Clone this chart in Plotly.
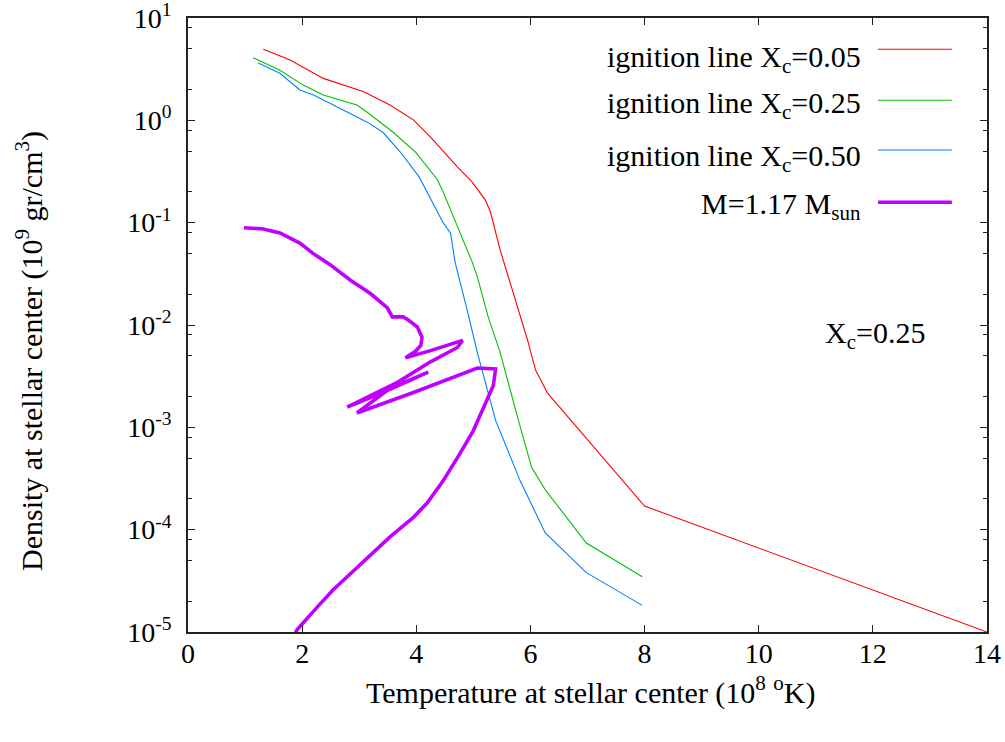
import plotly.graph_objects as go

# ---- data ----
red_T = [1.32, 1.79, 2.37, 3.07, 3.54, 3.95, 4.25, 4.72, 4.98, 5.21, 5.30, 5.47, 5.70, 5.95, 6.09, 6.30, 8.0, 14.0]
red_rho = [4.94, 3.88, 2.57, 1.91, 1.41, 1.01, 0.687, 0.35, 0.249, 0.166, 0.127, 0.054, 0.0205, 0.0071, 0.00362, 0.00216, 1.7e-4, 1.0e-5]

green_T = [1.14, 1.61, 2.02, 2.37, 2.96, 3.14, 3.6, 4.0, 4.37, 4.47, 4.98, 5.07, 5.26, 5.47, 5.79, 6.02, 6.26, 6.98, 7.96]
green_rho = [4.09, 3.09, 2.21, 1.77, 1.41, 1.20, 0.76, 0.48, 0.263, 0.2, 0.0412, 0.0295, 0.012, 0.00537, 0.00117, 4.07e-4, 2.45e-4, 7.4e-5, 3.47e-5]

blue_T = [1.23, 1.61, 1.96, 2.2, 2.9, 3.14, 3.42, 3.72, 4.05, 4.47, 4.6, 4.68, 4.89, 5.07, 5.39, 5.82, 6.26, 6.98, 7.96]
blue_rho = [3.63, 2.88, 1.98, 1.77, 1.12, 0.96, 0.76, 0.49, 0.28, 0.1, 0.079, 0.041, 0.0141, 0.00537, 0.00117, 3.0e-4, 9.3e-5, 3.8e-5, 1.82e-5]

star_T = [0.98, 1.3, 1.61, 1.96, 2.19, 2.49, 2.84, 3.19, 3.49, 3.58, 3.77, 3.86, 4.02, 4.1, 4.08, 3.98, 3.81,
          4.25, 4.81, 4.72, 4.25, 3.67, 2.79, 3.37, 4.21, 3.54, 2.96, 3.95, 5.07, 5.39, 5.35, 5.18, 5.0,
          4.77, 4.47, 4.19, 3.95, 3.54, 3.19, 2.84, 2.54, 2.26, 1.91, 1.85]
star_rho = [0.0891, 0.0871, 0.0794, 0.0631, 0.0501, 0.0389, 0.0275, 0.0204, 0.0148, 0.0120, 0.0120, 0.0112, 0.00955, 0.00759, 0.00631, 0.0055, 0.00479,
            0.00562, 0.00708, 0.00603, 0.00437, 0.00275, 0.00158, 0.00214, 0.00347, 0.0024, 0.00138, 0.00219, 0.0038, 0.00372, 0.00257, 0.00158, 9.3e-4,
            5.6e-4, 3.0e-4, 1.82e-4, 1.32e-4, 8.5e-5, 5.6e-5, 3.7e-5, 2.57e-5, 1.74e-5, 1.05e-5, 8.9e-6]

legend_labels = ["ignition line X<sub>c</sub>=0.05", "ignition line X<sub>c</sub>=0.25",
                 "ignition line X<sub>c</sub>=0.50", "M=1.17 M<sub>sun</sub>"]
colors = ["#ff0000", "#00c000", "#0080ff", "#c000ff"]
widths = [1.1, 1.1, 1.1, 3.6]

x_ticks = [0, 2, 4, 6, 8, 10, 12, 14]
y_ticks = [1e-5, 1e-4, 1e-3, 1e-2, 1e-1, 1e0, 1e1]
y_ticktext = ["10<sup>-5</sup>", "10<sup>-4</sup>", "10<sup>-3</sup>", "10<sup>-2</sup>",
              "10<sup>-1</sup>", "10<sup>0</sup>", "10<sup>1</sup>"]
y_minor = [m * 10.0 ** e for e in range(-5, 1) for m in (2, 5, 8)]

FONT = "Liberation Serif, Times New Roman, serif"

fig = go.Figure()
series = [(red_T, red_rho), (green_T, green_rho), (blue_T, blue_rho), (star_T, star_rho)]
for (xs, ys), name, c, w in zip(series, legend_labels, colors, widths):
    fig.add_trace(go.Scatter(x=xs, y=ys, mode="lines", name=name,
                             line=dict(color=c, width=w), showlegend=False))

# custom legend: text on left (right-aligned), sample line on right
line_y = [0.949, 0.866, 0.785, 0.700]
text_y = [0.9337, 0.8583, 0.7728, 0.6938]
for ly, ty, name, c, w in zip(line_y, text_y, legend_labels, colors, widths):
    fig.add_annotation(xref="paper", yref="paper", x=0.845, y=ty, text=name,
                       showarrow=False, xanchor="right", yanchor="middle",
                       font=dict(family=FONT, size=30, color="black"))
    fig.add_shape(type="line", xref="paper", yref="paper", x0=0.8636, x1=0.956, y0=ly, y1=ly,
                  line=dict(color=c, width=w))

fig.add_annotation(xref="paper", yref="paper", x=0.86, y=0.484, text="X<sub>c</sub>=0.25",
                   showarrow=False, xanchor="center", yanchor="middle",
                   font=dict(family=FONT, size=30, color="black"))

# axis titles
fig.add_annotation(xref="paper", yref="paper", x=0.504, y=-0.0945,
                   text="Temperature at stellar center (10<sup>8</sup> <sup>o</sup>K)",
                   showarrow=False, xanchor="center", yanchor="middle",
                   font=dict(family=FONT, size=30, color="black"))
fig.add_annotation(xref="paper", yref="paper", x=-0.1977, y=0.4577, textangle=-90,
                   text="Density at stellar center (10<sup>9</sup> gr/cm<sup>3</sup>)",
                   showarrow=False, xanchor="center", yanchor="middle",
                   font=dict(family=FONT, size=30, color="black"))

axis_common = dict(showline=True, linecolor="#222222", linewidth=1.5, mirror="allticks",
                   ticks="inside", tickcolor="#222222", showgrid=False, zeroline=False,
                   automargin=False, ticklabeloverflow="allow",
                   tickfont=dict(family=FONT, size=28, color="black"))

fig.update_xaxes(range=[0, 14], tickmode="array", tickvals=x_ticks, ticklen=7,
                 ticklabelstandoff=-4, **axis_common)
fig.update_yaxes(type="log", range=[-5, 1], tickmode="array", tickvals=y_ticks, ticktext=y_ticktext,
                 ticklen=7, ticklabelstandoff=9,
                 minor=dict(tickmode="array", tickvals=y_minor, ticks="inside", ticklen=4,
                            tickcolor="#222222", showgrid=False),
                 **axis_common)

fig.update_layout(width=1005, height=742, margin=dict(l=188, r=18, t=18, b=110),
                  plot_bgcolor="white", paper_bgcolor="white",
                  font=dict(family=FONT, size=28, color="black"))

fig.write_html("out.html")
